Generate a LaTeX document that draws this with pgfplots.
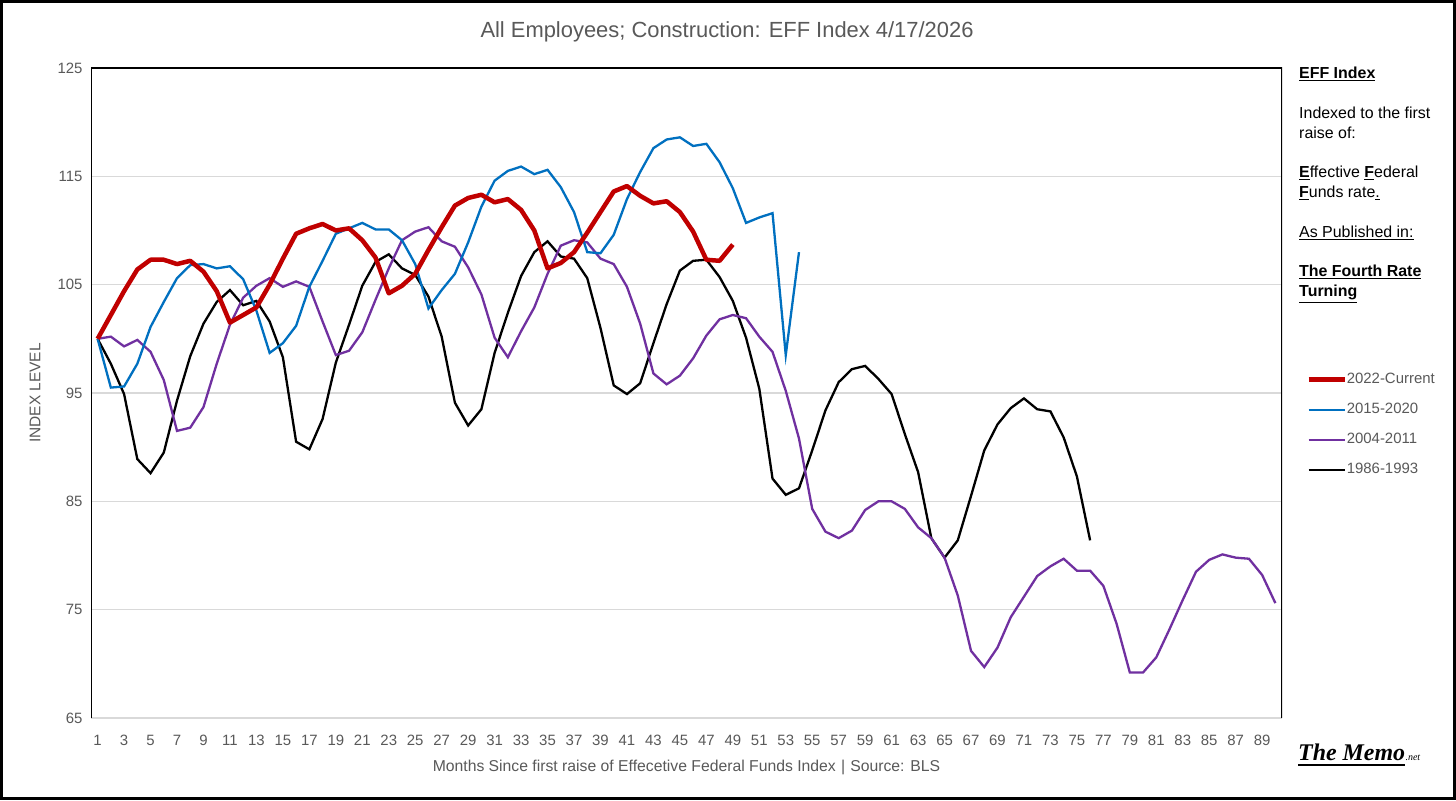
\documentclass[border=0pt]{standalone}
\usepackage{fontspec}
\setmainfont{Liberation Sans}
\newfontfamily\memofont{Liberation Serif}
\usepackage{pgfplots}
\usepackage{pgfplotstable}
\pgfplotsset{compat=1.18}
\definecolor{cRed}{HTML}{C00000}
\definecolor{cBlue}{HTML}{0070C0}
\definecolor{cPurple}{HTML}{7030A0}
\definecolor{txtgray}{HTML}{595959}
\definecolor{gridgray}{HTML}{D9D9D9}

\pgfplotstableread{
m v
1 100
2 102.2
3 104.4
4 106.4
5 107.3
6 107.3
7 106.9
8 107.2
9 106.2
10 104.4
11 101.5
12 102.2
13 102.9
14 105.0
15 107.4
16 109.7
17 110.2
18 110.6
19 110.0
20 110.2
21 109.1
22 107.5
23 104.2
24 104.9
25 106.0
26 108.2
27 110.3
28 112.3
29 113.0
30 113.3
31 112.6
32 112.9
33 111.9
34 110.0
35 106.5
36 107.0
37 108.0
38 109.8
39 111.7
40 113.6
41 114.1
42 113.2
43 112.5
44 112.7
45 111.7
46 109.9
47 107.3
48 107.2
49 108.7
}\redtab

\pgfplotstableread{
m v
1 100
2 95.5
3 95.6
4 97.7
5 101.1
6 103.4
7 105.6
8 106.8
9 106.9
10 106.5
11 106.7
12 105.5
13 102.6
14 98.7
15 99.6
16 101.2
17 104.8
18 107.2
19 109.7
20 110.2
21 110.7
22 110.1
23 110.1
24 109.1
25 106.9
26 102.8
27 104.5
28 106.0
29 108.9
30 112.2
31 114.6
32 115.5
33 115.9
34 115.2
35 115.6
36 114.0
37 111.7
38 108.0
39 107.9
40 109.6
41 112.9
42 115.4
43 117.6
44 118.4
45 118.6
46 117.8
47 118.0
48 116.3
49 113.9
50 110.7
51 111.2
52 111.6
53 98.5
54 108.0
}\bluetab

\pgfplotstableread{
m v
1 100
2 100.2
3 99.3
4 99.9
5 98.8
6 96.2
7 91.5
8 91.8
9 93.7
10 97.7
11 101.3
12 103.8
13 104.9
14 105.6
15 104.8
16 105.3
17 104.8
18 101.6
19 98.5
20 98.9
21 100.6
22 103.6
23 106.5
24 109.1
25 109.9
26 110.3
27 109.0
28 108.5
29 106.6
30 104.1
31 100.1
32 98.3
33 100.7
34 102.9
35 106.0
36 108.6
37 109.1
38 108.9
39 107.4
40 106.9
41 104.8
42 101.4
43 96.8
44 95.8
45 96.6
46 98.2
47 100.3
48 101.8
49 102.2
50 101.9
51 100.2
52 98.8
53 95.2
54 90.8
55 84.3
56 82.2
57 81.6
58 82.3
59 84.2
60 85.0
61 85.0
62 84.3
63 82.6
64 81.6
65 79.8
66 76.3
67 71.2
68 69.7
69 71.5
70 74.3
71 76.2
72 78.1
73 79.0
74 79.7
75 78.6
76 78.6
77 77.2
78 73.7
79 69.2
80 69.2
81 70.6
82 73.2
83 75.9
84 78.5
85 79.6
86 80.1
87 79.8
88 79.7
89 78.2
90 75.6
}\purpletab

\pgfplotstableread{
m v
1 100
2 97.7
3 94.9
4 88.9
5 87.6
6 89.5
7 94.3
8 98.4
9 101.4
10 103.4
11 104.5
12 103.1
13 103.5
14 101.6
15 98.3
16 90.5
17 89.8
18 92.6
19 97.8
20 101.3
21 104.9
22 107.1
23 107.8
24 106.5
25 105.9
26 103.9
27 100.2
28 94.1
29 92.0
30 93.5
31 98.7
32 102.4
33 105.8
34 108.0
35 109.0
36 107.6
37 107.4
38 105.6
39 101.0
40 95.7
41 94.9
42 95.9
43 99.6
44 103.2
45 106.3
46 107.2
47 107.3
48 105.7
49 103.5
50 100.1
51 95.4
52 87.1
53 85.6
54 86.2
55 89.7
56 93.4
57 96.0
58 97.2
59 97.5
60 96.3
61 94.9
62 91.2
63 87.7
64 81.6
65 79.8
66 81.4
67 85.5
68 89.7
69 92.1
70 93.6
71 94.5
72 93.5
73 93.3
74 90.9
75 87.3
76 81.4
}\blacktab

\begin{document}
\begin{tikzpicture}[x=1bp,y=1bp]
\useasboundingbox (0,0) rectangle (1456,800);
\fill[white] (0,0) rectangle (1456,800);
\draw[line width=3bp] (1.5,1.5) rectangle (1454.5,798.5);

\node[font=\fontsize{22}{24}\selectfont, text=txtgray] at (727,768) {All Employees; Construction: EFF Index 4/17/2026};
\node[font=\fontsize{15.5}{15.5}\selectfont, text=txtgray, rotate=90] at (35,407) {INDEX LEVEL};

\begin{axis}[
  at={(91bp,82bp)}, anchor=south west,
  scale only axis, width=1191bp, height=650bp,
  xmin=0.5, xmax=90.5, ymin=65, ymax=125,
  xtick={1,3,...,89}, ytick={65,75,...,125},
  axis line style={draw=none},
  ymajorgrids, grid style={gridgray, line width=1.3bp},
  major tick length=0pt,
  tick label style={font=\fontsize{15}{15}\selectfont, text=txtgray},
  /pgf/number format/assume math mode=true,
  yticklabel style={xshift=-5bp},
  xticklabel style={yshift=-14bp},
  xlabel={Months Since first raise of Effecetive Federal Funds Index\,\,|\,\,Source: BLS},
  xlabel style={font=\fontsize{15.8}{15.8}\selectfont, text=txtgray, at={(0.5,0)}, anchor=center, yshift=-49bp},
  legend cell align=left,
  legend style={at={(1.0202,0.5308)}, anchor=north west, draw=none, fill=none,
    font=\fontsize{15}{15}\selectfont, text=txtgray, row sep=17bp, inner sep=0pt,
    nodes={inner sep=0pt, text height=10.5bp, text depth=2.5bp}},
  legend image code/.code={\draw[#1] (0bp,0bp) -- (36bp,0bp);},
]
\addlegendimage{cRed, line width=4.5bp}
\addlegendentry{2022-Current}
\addlegendimage{cBlue, line width=2.3bp}
\addlegendentry{2015-2020}
\addlegendimage{cPurple, line width=2.3bp}
\addlegendentry{2004-2011}
\addlegendimage{black, line width=2.3bp}
\addlegendentry{1986-1993}

\addplot[black, line width=2.3bp, forget plot] table[x=m, y=v] {\blacktab};
\addplot[cPurple, line width=2.3bp, forget plot] table[x=m, y=v] {\purpletab};
\addplot[cBlue, line width=2.3bp, forget plot] table[x=m, y=v] {\bluetab};
\addplot[cRed, line width=4.5bp, line join=round, forget plot] table[x=m, y=v] {\redtab};

\draw[gridgray, line width=1.3bp] (rel axis cs:0,0) -- (rel axis cs:1,0);
\draw[black, line width=1.6bp] (rel axis cs:0,0) -- (rel axis cs:0,1) -- (rel axis cs:1,1) -- (rel axis cs:1,0);
\end{axis}

\begin{scope}[every node/.style={anchor=base west, inner sep=0pt, font=\fontsize{16}{16}\selectfont}]
\node at (1299,721) {\textbf{\underline{EFF Index}}};
\node at (1299,681) {Indexed to the first};
\node at (1299,661) {raise of:};
\node at (1299,622) {\underline{\textbf{E}}ffective \underline{\textbf{F}}ederal};
\node at (1299,602) {\underline{\textbf{F}}unds rate\underline{.}};
\node at (1299,562) {\underline{As Published in:}};
\node at (1299,523) {\textbf{\underline{The Fourth Rate}}};
\node at (1299,503) {\textbf{\underline{Turning}}};
\end{scope}

\node[anchor=base west, inner sep=0pt, font=\memofont\fontsize{24}{24}\selectfont\bfseries\itshape] (memo) at (1298,40) {The Memo};
\node[anchor=base west, inner sep=0pt, font=\memofont\fontsize{10}{10}\selectfont\itshape] at (memo.base east) {.net};
\draw[line width=2.2bp] (1298,35) -- (memo.base east |- 0,35);
\end{tikzpicture}
\end{document}
